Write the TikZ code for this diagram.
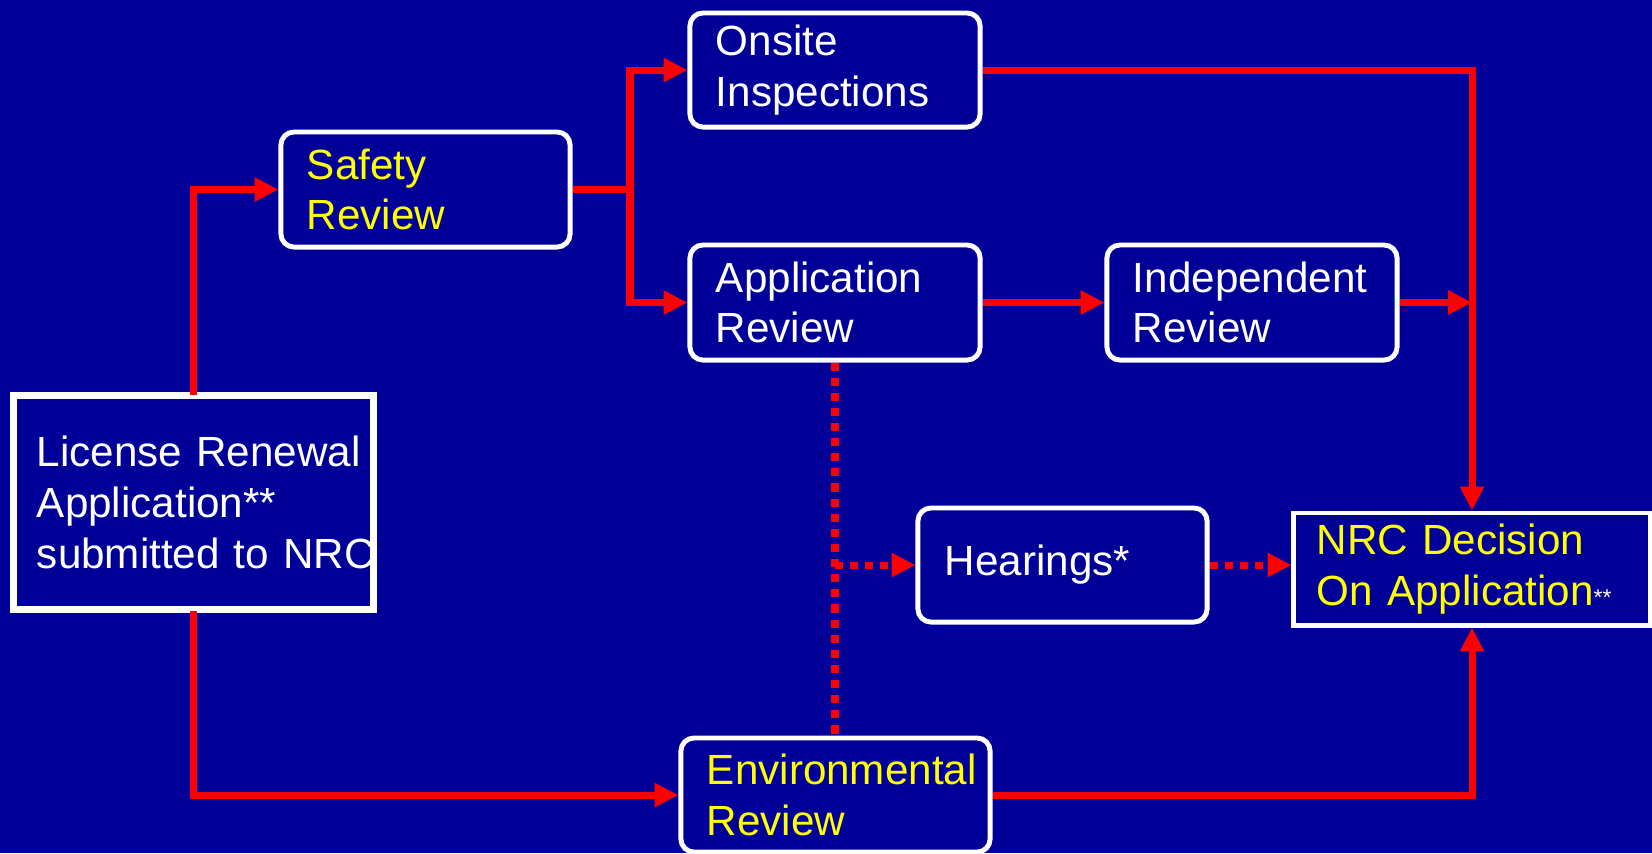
\documentclass[tikz,border=0pt]{standalone}
\usepackage{fontspec}
\setmainfont{Liberation Sans}
\usetikzlibrary{arrows.meta}
\definecolor{bg}{RGB}{0,0,153}
\definecolor{ylw}{RGB}{255,255,0}
\begin{document}
\begin{tikzpicture}[x=0.01cm,y=-0.01cm,
 base/.style={draw=white, line width=1.4pt, fill=bg, text=white,
   font=\fontsize{12}{14.4}\selectfont, align=left, inner ysep=0pt,
   inner xsep=0.26cm, anchor=center},
 rbox/.style={base, rounded corners=3.7pt},
 sbox/.style={base},
 flow/.style={draw=red, line width=2pt, -{Triangle[length=6.8pt,width=6.5pt]}},
 link/.style={draw=red, line width=2pt},
 dots/.style={draw=red, line width=2pt, dash pattern=on 2.3pt off 2pt},
 dotflow/.style={dots, -{Triangle[length=6.8pt,width=6.5pt]}}
]
\fill[bg] (0,0) rectangle (1652,853);
\useasboundingbox (0,0) rectangle (1652,853);

% nodes
\node[rbox, text=ylw, text width=2.37cm, minimum height=1.15cm] (safety) at (425.5,189.5) {Safety\\Review};
\node[rbox, text width=2.38cm, minimum height=1.14cm] (onsite) at (835,70) {Onsite\\Inspections};
\node[rbox, text width=2.38cm, minimum height=1.15cm] (appl) at (835,302.5) {Application\\Review};
\node[rbox, text width=2.38cm, minimum height=1.15cm] (indep) at (1252,302.5) {Independent\\Review};
\node[sbox, inner xsep=0.22cm, text width=3.13cm, minimum height=2.11cm] (lic) at (193.5,502.5) {\mbox{License Renewal}\\\mbox{Application**}\\\mbox{submitted to NRC}};
\draw[white, line width=1.4pt] (lic.south west) rectangle (lic.north east);
\node[rbox, inner xsep=0.27cm, text width=2.35cm, minimum height=1.14cm] (hear) at (1062.5,565) {Hearings*};
\node[sbox, text=ylw, inner xsep=0.23cm, text width=3.1cm, minimum height=1.12cm] (nrc) at (1472,569) {\mbox{NRC Decision}\\\mbox{On Application{\color{white}\fontsize{6.5}{7}\selectfont**}}};
\node[rbox, text=ylw, text width=2.57cm, minimum height=1.14cm] (env) at (835.5,795) {\mbox{Environmental}\\Review};

% connectors
\coordinate (br) at (630,189.5);
\draw[flow] (lic.north) |- (safety.west);
\draw[link] (safety.east) -- (br);
\draw[flow] (br) |- (onsite.west);
\draw[flow] (br) |- (appl.west);
\draw[flow] (onsite.east) -| (nrc.north);
\draw[flow] (appl.east) -- (indep.west);
\draw[flow] (indep.east) -- (indep.east -| nrc.north);
\draw[flow] (lic.south) |- (env.west);
\draw[flow] (env.east) -| (nrc.south);

\coordinate (dj) at (appl.south |- hear.west);
\draw[dots] (appl.south) -- (appl.south |- env.north);
\draw[dotflow] (dj) -- (hear.west);
\draw[dotflow] (hear.east) -- (nrc.west |- hear.east);
\end{tikzpicture}
\end{document}
